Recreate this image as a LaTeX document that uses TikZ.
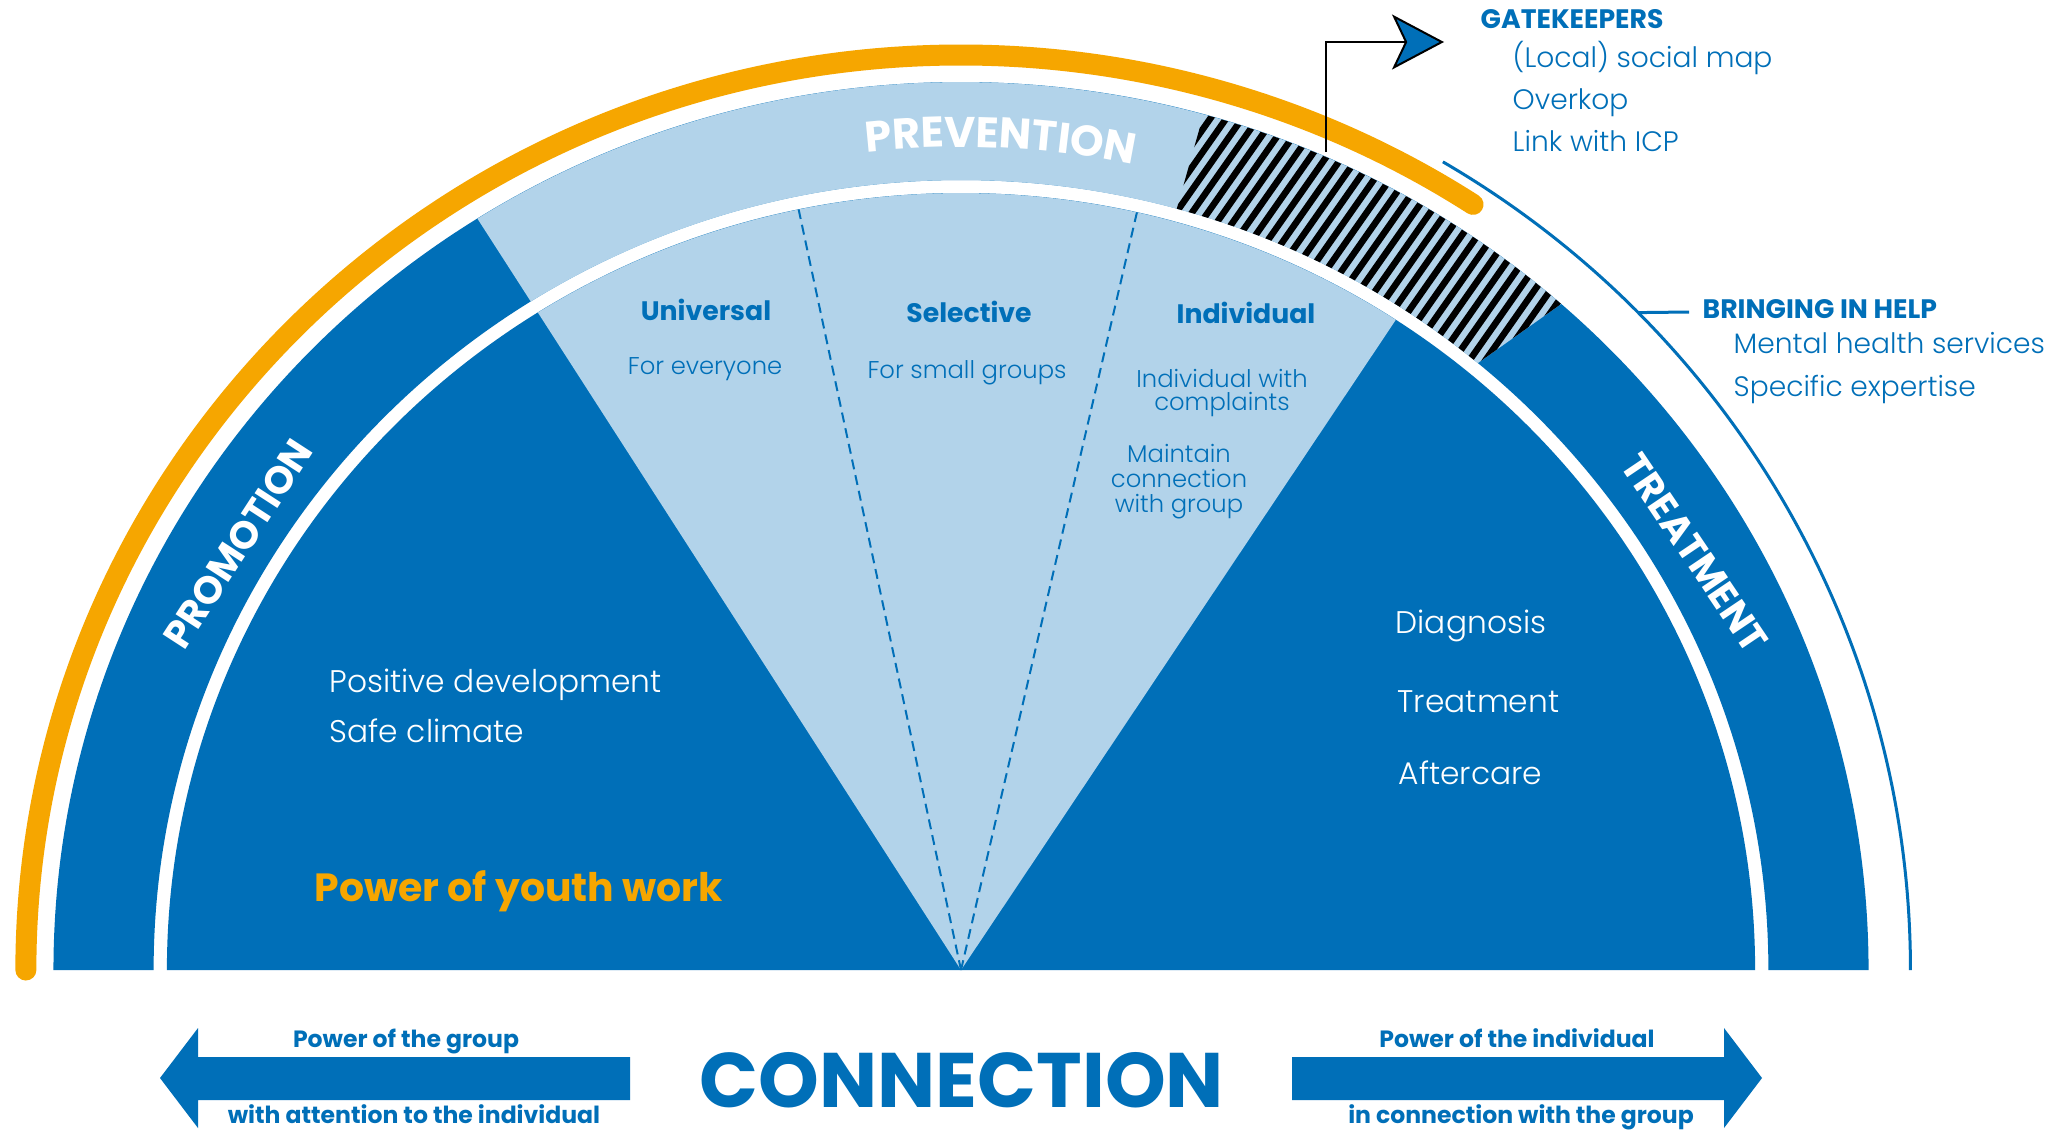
\documentclass[tikz,border=0pt]{standalone}
\usepackage{fontspec}
\setmainfont{Poppins}
\newfontfamily\popl{Poppins Light}
\usetikzlibrary{arrows.meta,decorations.text}
\definecolor{dblue}{RGB}{0,111,184}
\definecolor{lblue}{RGB}{178,211,234}
\definecolor{gold}{RGB}{246,166,0}
\newcommand\fsz[2]{\fontsize{#1}{#2}\selectfont}
\begin{document}
\begin{tikzpicture}[x=0.1mm,y=-0.1mm,
  arcs/.style={shift={(961,970)},xscale=1.022,yscale=-1},
  wl/.style={text=white,font=\popl\fsz{8.9}{11},inner sep=0pt},
  bl/.style={text=dblue,font=\popl\fsz{6.9}{8},inner sep=0pt},
  rl/.style={text=dblue,font=\popl\fsz{8}{9},inner sep=0pt},
  hb/.style={text=dblue,font=\bfseries\fsz{7.6}{9},inner sep=0pt},
  bandlab/.style={text=white,font=\bfseries\fsz{11}{12},inner sep=0pt},
  arrlab/.style={text=dblue,font=\bfseries\fsz{6.7}{8},inner sep=0pt},
  bigarrow/.style={fill=dblue},
]
\useasboundingbox (0,0) rectangle (2054,1130);
\fill[white] (0,0) rectangle (2054,1130);

% outer band
\begin{scope}[arcs]
  \fill[dblue] (0:888) arc[start angle=0,end angle=180,radius=888] -- (180:790) arc[start angle=180,end angle=0,radius=790] -- cycle;
  \fill[lblue] (122.2:888) arc[start angle=122.2,end angle=48.6,radius=888] -- (50.2:790) arc[start angle=50.2,end angle=122.2,radius=790] -- cycle;
\end{scope}

% hatched part
\begin{scope}
  \clip[arcs] (74.5:888) arc[start angle=74.5,end angle=48.6,radius=888] -- (50.2:790) arc[start angle=50.2,end angle=74.5,radius=790] -- cycle;
  \foreach \s in {1046,1059,...,1465}
    \draw[black,line width=0.65mm] ({0.819*\s+0.574*320},{0.574*\s-0.819*320}) -- ({0.819*\s+0.574*870},{0.574*\s-0.819*870});
\end{scope}

% inner region, wedge, orange arc, outer thin line
\begin{scope}[arcs]
  \fill[dblue] (0:777) arc[start angle=0,end angle=180,radius=777] -- cycle;
  \fill[lblue] (0,0) -- (122.2:777) arc[start angle=122.2,end angle=56.8,radius=777] -- cycle;
  \draw[dblue,line width=0.2mm,dash pattern=on 1mm off 0.6mm] (0,0) -- (101.8:777) (0,0) -- (77.2:777);
  \draw[gold,line width=2.1mm,line cap=round] (180:915) arc[start angle=180,end angle=56.8,radius=915];
  \draw[dblue,line width=0.3mm] (59.5:929 and 938) arc[start angle=59.5,end angle=0,x radius=929,y radius=938];
  \coordinate (tickA) at (44.5:929 and 938);
  \path[decorate,decoration={text along path,text={|\bfseries\fsz{12.2}{12}|PREVENTION},text align=center,text color=white}]
    (100:823) arc[start angle=100,end angle=74.6,radius=823];
\end{scope}

% band labels
\node[bandlab,rotate=57] (promo) at (238,544) {PROMOTION};
\node[bandlab,rotate=-56] (treat) at (1695,553) {TREATMENT};

% wedge texts
\node[hb,anchor=base] (univ) at (706,320) {Universal};
\node[bl,anchor=base] (everyone) at (705,374) {For everyone};
\node[hb,anchor=base] (sel) at (969,322) {Selective};
\node[bl,anchor=base] (small) at (967,378) {For small groups};
\node[hb,anchor=base] (indiv) at (1246,323) {Individual};
\node[bl,anchor=base] (iw1) at (1222,387) {Individual with};
\node[bl,anchor=base] (iw2) at (1222,410) {complaints};
\node[bl,anchor=base] (mc1) at (1179,462) {Maintain};
\node[bl,anchor=base] (mc2) at (1179,487) {connection};
\node[bl,anchor=base] (mc3) at (1179,512) {with group};

% promotion texts
\node[wl,anchor=base west] (posdev) at (329,692) {Positive development};
\node[wl,anchor=base west] (safe) at (329,742) {Safe climate};
\node[text=gold,font=\bfseries\fsz{11.2}{12},inner sep=0pt,anchor=base west] (youth) at (314,901) {Power of youth work};

% treatment texts
\node[wl,anchor=base west] (diag) at (1395,633) {Diagnosis};
\node[wl,anchor=base west] (treatt) at (1397,712) {Treatment};
\node[wl,anchor=base west] (after) at (1398,784) {Aftercare};

% right side texts
\node[hb,anchor=base west] (gate) at (1480,28) {GATEKEEPERS};
\node[rl,anchor=base west] (g1) at (1512,67) {(Local) social map};
\node[rl,anchor=base west] (g2) at (1512,109) {Overkop};
\node[rl,anchor=base west] (g3) at (1512,151) {Link with ICP};
\node[hb,anchor=base west] (bring) at (1702,318) {BRINGING IN HELP};
\node[rl,anchor=base west] (b1) at (1733,353) {Mental health services};
\node[rl,anchor=base west] (b2) at (1733,396) {Specific expertise};

% connectors on the right
\coordinate (tickB) at (1689,312);
\draw[dblue,line width=0.3mm] (tickA) -- (tickB);
\coordinate (hstart) at (1326,152);
\coordinate (gtip) at (1444,42);
\draw[black,line width=0.2mm,-{Stealth[length=5.2mm,width=5.5mm,inset=1.3mm,fill=dblue]}] (hstart) |- (gtip);

% bottom arrows
\fill[bigarrow] (630,1057) -- (198,1057) -- (198,1028) -- (160,1078) -- (198,1128) -- (198,1100) -- (630,1100) -- cycle;
\fill[bigarrow] (1292,1057) -- (1724,1057) -- (1724,1028) -- (1762,1078) -- (1724,1128) -- (1724,1100) -- (1292,1100) -- cycle;
\node[arrlab,anchor=base] (pg) at (406,1047) {Power of the group};
\node[arrlab,anchor=base] (wa) at (414,1123) {with attention to the individual};
\node[arrlab,anchor=base] (pi) at (1517,1047) {Power of the individual};
\node[arrlab,anchor=base] (ic) at (1521,1123) {in connection with the group};
\node[text=dblue,font=\bfseries\fsz{22}{24},inner sep=0pt,anchor=base] (conn) at (962,1107) {CONNECTION};
\end{tikzpicture}
\end{document}
